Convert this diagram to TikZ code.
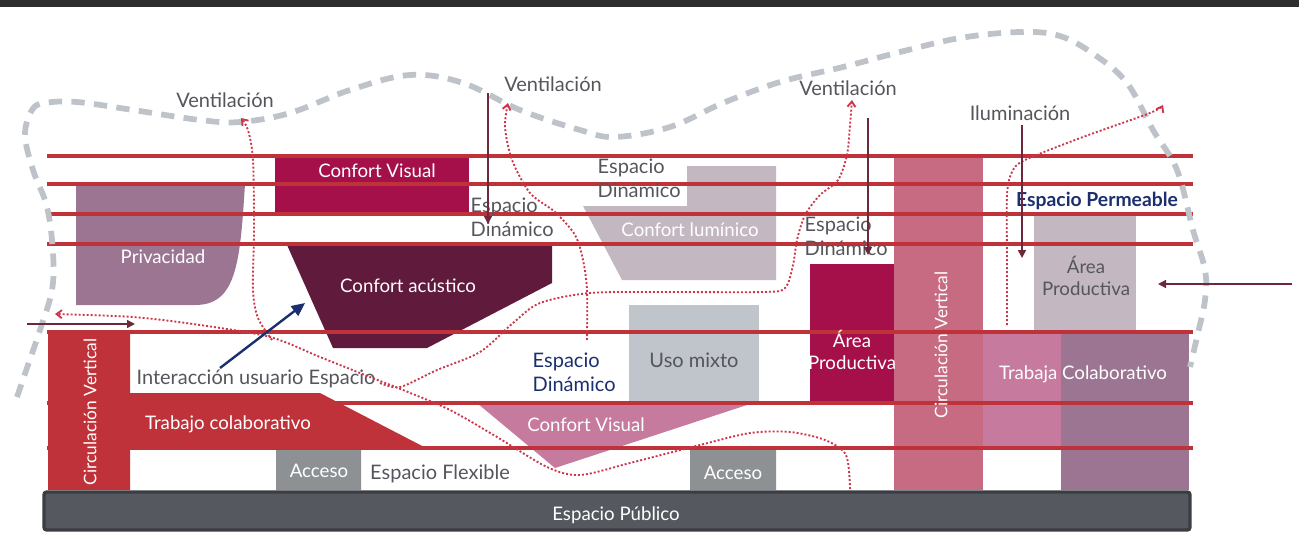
\documentclass[tikz,border=0pt]{standalone}
\usepackage{fontspec}
\setmainfont{Lato}
\usetikzlibrary{arrows.meta}
\definecolor{crimson}{RGB}{165,15,74}
\definecolor{plum}{RGB}{95,26,60}
\definecolor{mauve}{RGB}{156,117,146}
\definecolor{lilac}{RGB}{195,183,194}
\definecolor{rosa}{RGB}{197,122,158}
\definecolor{rose}{RGB}{199,107,130}
\definecolor{brick}{RGB}{192,50,58}
\definecolor{mixgray}{RGB}{192,196,203}
\definecolor{accgray}{RGB}{142,145,148}
\definecolor{bargray}{RGB}{85,88,95}
\definecolor{bardark}{RGB}{60,61,66}
\definecolor{txtgray}{RGB}{85,86,92}
\definecolor{navy}{RGB}{27,47,110}
\definecolor{wine}{RGB}{110,40,60}
\definecolor{cloud}{RGB}{190,195,202}
\definecolor{flow}{RGB}{205,55,75}
\begin{document}
\begin{tikzpicture}[x=0.75pt,y=-0.75pt,
  lbl/.style={text=txtgray,font=\fontsize{15}{18}\selectfont},
  wlbl/.style={text=white,font=\fontsize{14}{16.5}\selectfont},
  dlbl/.style={text=navy,font=\fontsize{15}{18}\selectfont,align=left},
  band/.style={brick,line width=2.3pt},
  air/.style={flow,line width=1.4pt,dash pattern=on 1.5pt off 1.5pt,-{Straight Barb[length=4pt,width=6pt]}},
  fall/.style={wine,line width=1.1pt,-{Triangle[length=6pt,width=6pt]}}]
\useasboundingbox (0,0) rectangle (1299,533);
\fill[black!82] (0,0) rectangle (1299,7);
% zones
\fill[mauve] (76,184) -- (245,184) .. controls (240,265) and (236,305) .. (195,305) -- (76,305) -- cycle;
\fill[crimson] (275,156) rectangle (469,214);
\fill[plum] (287,245) -- (552,245) -- (552,283) -- (427,348) -- (333,348) -- cycle;
\fill[lilac] (687,166) -- (776,166) -- (776,280) -- (622,280) -- (583,206) -- (687,206) -- cycle;
\fill[mixgray] (629,305) rectangle (759,402);
\fill[rosa] (477,403) -- (753,403) -- (555,468) -- cycle;
\fill[crimson] (810,264) rectangle (895,402);
\fill[rose] (894,156) rectangle (983,490);
\fill[lilac] (1034,214) rectangle (1136,331);
\fill[rosa] (983,332) rectangle (1061,448);
\fill[mauve] (1061,332) rectangle (1189,490);
\fill[accgray] (276,450) rectangle (361,490) (690,450) rectangle (776,490);
% floors
\foreach \y in {156,184,214,244,332,403,448}
  \draw[band] (47,\y) -- (1193,\y);
\fill[brick] (48,334) -- (130,334) -- (130,393) -- (320,393) -- (428,449) -- (130,449) -- (130,490) -- (48,490) -- cycle;
\filldraw[fill=bargray,draw=bardark,line width=2.5pt,rounded corners=2pt] (44,492) rectangle (1190,530);
% envelope
\draw[cloud,line width=4.3pt,dash pattern=on 10pt off 7pt] plot[smooth,tension=0.6] coordinates {
  (17,397) (28,365) (40,330) (52,290) (53,253) (47,207) (33,170) (25,135) (32,110) (45,103)
  (77,102) (133,110) (200,120) (240,122) (290,113) (350,90) (410,75) (463,83) (520,110)
  (580,130) (615,137) (670,127) (723,103) (780,82) (843,67) (900,52) (960,38) (1020,32)
  (1060,36) (1095,55) (1127,83) (1153,130) (1177,170) (1193,230) (1205,270) (1205,300)
  (1197,337) (1190,367)};
% labels
\node[wlbl] (privacidad) at (163,257) {Privacidad};
\node[wlbl] (visualtop) at (377,171) {Confort Visual};
\node[wlbl] (acustico) at (408,286) {Confort acústico};
\node[wlbl] (luminico) at (690,230) {Confort lumínico};
\node[lbl] (usomixto) at (694,360) {Uso mixto};
\node[wlbl] (visualbot) at (586,425) {Confort Visual};
\node[wlbl,align=center] (prodA) at (852,350) {Área\\Productiva};
\node[wlbl,rotate=90,font=\fontsize{13}{15}\selectfont] (circR) at (941,345) {Circulación Vertical};
\node[lbl,align=center,font=\fontsize{14}{16.5}\selectfont] (prodB) at (1086,276) {Área\\Productiva};
\node[wlbl] (trabaja) at (1083,374) {Trabaja Colaborativo};
\node[wlbl,rotate=90,font=\fontsize{13}{15}\selectfont] (circL) at (90,412) {Circulación Vertical};
\node[wlbl] (trabajo) at (228,424) {Trabajo colaborativo};
\node[wlbl] (acceso1) at (319,471) {Acceso};
\node[wlbl] (acceso2) at (733,473) {Acceso};
\node[wlbl] (publico) at (616,515) {Espacio Público};
\node[lbl] (flexible) at (440,474) {Espacio Flexible};
\node[lbl] (interaccion) at (256,379) {Interacción usuario Espacio};
\node[lbl,align=left,anchor=west] (din1) at (466,217) {Espacio\\Dinámico};
\node[lbl,align=left,anchor=west] (din2) at (593,178) {Espacio\\Dinámico};
\node[lbl,align=left,anchor=west] (din3) at (800,236) {Espacio\\Dinámico};
\node[dlbl,anchor=west] (din4) at (528,372) {Espacio\\Dinámico};
\node[dlbl,font=\bfseries\fontsize{14.5}{18}\selectfont] (permeable) at (1097,201) {Espacio Permeable};
\node[lbl] (vent1) at (225,100) {Ventilación};
\node[lbl] (vent2) at (553,84) {Ventilación};
\node[lbl] (vent3) at (848,88) {Ventilación};
\node[lbl] (ilum) at (1020,113) {Iluminación};
% air flows
\draw[air] plot[smooth] coordinates {(272,340) (258,318) (253,290) (254,230) (253,160) (248,130) (241,118)};
\draw[air] plot[smooth] coordinates {(850,489) (846,455) (825,440) (790,432) (750,433) (700,445) (630,463)
  (580,475) (547,467) (497,437) (450,410) (403,390) (370,377) (320,357) (270,337) (200,325) (133,317) (55,314)};
\draw[air] plot[smooth] coordinates {(587,340) (587,290) (583,260) (575,235) (555,212) (530,193) (512,160) (505,127) (508,103)};
\draw[air] plot[smooth] coordinates {(380,383) (400,387) (437,370) (480,352) (513,323) (540,303) (590,293) (663,292)
  (763,292) (785,288) (793,265) (797,240) (805,215) (820,195) (838,180) (847,155) (850,125) (852,100)};
\draw[air] plot[smooth] coordinates {(1007,325) (1007,260) (1007,195) (1012,172) (1025,160) (1083,137) (1150,113) (1163,105)};
% arrows
\coordinate (v2a) at (488,93);   \coordinate (v2b) at (488,224);
\coordinate (v3a) at (868,118);  \coordinate (v3b) at (868,255);
\coordinate (ila) at (1022,125); \coordinate (ilb) at (1022,258);
\coordinate (ea) at (1292,284);  \coordinate (eb) at (1158,284);
\coordinate (wa) at (27,324);    \coordinate (wb) at (135,324);
\coordinate (ua) at (220,368);   \coordinate (ub) at (305,303);
\draw[fall] (v2a) -- (v2b);
\draw[fall] (v3a) -- (v3b);
\draw[fall] (ila) -- (ilb);
\draw[fall] (ea) -- (eb);
\draw[fall] (wa) -- (wb);
\draw[navy,line width=1.8pt,-{Triangle[length=10pt,width=9pt]}] (ua) -- (ub);
\end{tikzpicture}
\end{document}
